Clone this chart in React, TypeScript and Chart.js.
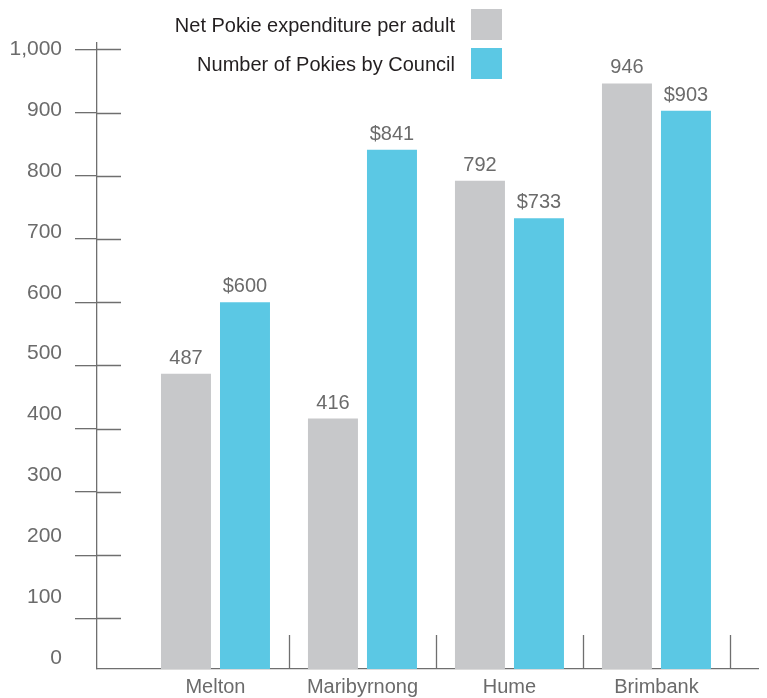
import React, { useEffect, useRef } from 'react';
import { Chart, registerables } from 'chart.js';

Chart.register(...registerables);

const categories = ['Melton', 'Maribyrnong', 'Hume', 'Brimbank'];
const seriesNames = ['Net Pokie expenditure per adult', 'Number of Pokies by Council'];
const expenditureValues = [487, 416, 792, 946];
const pokiesValues = [600, 841, 733, 903];
const expenditureLabels = ['487', '416', '792', '946'];
const pokiesLabels = ['$600', '$841', '$733', '$903'];
const yTickValues = [0, 100, 200, 300, 400, 500, 600, 700, 800, 900, 1000];
const markTickValues = [100, 200, 300, 400, 500, 600, 700, 800, 900, 1000];
const separatorValues = [0.5, 1.5, 2.5, 3.5];
const seriesColors = ['#c7c8ca', '#5bc8e4'];

const FONT = "'Liberation Sans', Arial, Helvetica, sans-serif";
const AXIS_COLOR = '#6f6f6f';
const TEXT_GRAY = '#6b6b6b';

const barLabelPlugin = {
  id: 'barLabels',
  afterDatasetsDraw(chart: any) {
    const ctx = chart.ctx;
    const all = [expenditureLabels, pokiesLabels];
    ctx.save();
    ctx.font = `20px ${FONT}`;
    ctx.fillStyle = TEXT_GRAY;
    ctx.textAlign = 'center';
    ctx.textBaseline = 'alphabetic';
    chart.data.datasets.forEach((_: any, i: number) => {
      const meta = chart.getDatasetMeta(i);
      meta.data.forEach((bar: any, j: number) => {
        ctx.fillText(all[i][j], bar.x, bar.y - 10);
      });
    });
    ctx.restore();
  },
};

const axisDecorPlugin = {
  id: 'axisDecor',
  afterDraw(chart: any) {
    const ctx = chart.ctx;
    const area = chart.chartArea;
    const ys = chart.scales.y;
    const xs = chart.scales.x;
    ctx.save();
    ctx.strokeStyle = AXIS_COLOR;
    ctx.lineWidth = 1.3;
    ctx.beginPath();
    markTickValues.forEach((v) => {
      const py = Math.round(ys.getPixelForValue(v)) + 0.5;
      ctx.moveTo(area.left, py);
      ctx.lineTo(area.left + 24, py);
    });
    separatorValues.forEach((v) => {
      const px = Math.round(xs.getPixelForValue(v)) + 0.5;
      ctx.moveTo(px, area.bottom - 34);
      ctx.lineTo(px, area.bottom);
    });
    ctx.stroke();
    ctx.restore();
  },
};

export default function App() {
  const canvasRef = useRef<HTMLCanvasElement>(null);

  useEffect(() => {
    Chart.defaults.font.family = FONT;
    const chart = new Chart(canvasRef.current as HTMLCanvasElement, {
      type: 'bar',
      data: {
        datasets: [
          {
            label: seriesNames[0],
            data: expenditureValues.map((v, i) => ({ x: i, y: v })),
            backgroundColor: seriesColors[0],
            borderWidth: 0,
            categoryPercentage: 0.803,
            barPercentage: 0.847,
          },
          {
            label: seriesNames[1],
            data: pokiesValues.map((v, i) => ({ x: i, y: v })),
            backgroundColor: seriesColors[1],
            borderWidth: 0,
            categoryPercentage: 0.803,
            barPercentage: 0.847,
          },
        ],
      },
      options: {
        responsive: false,
        animation: false,
        layout: { padding: { top: 35, left: 0, right: 0, bottom: 0 } },
        plugins: {
          legend: { display: false },
          tooltip: { enabled: false },
        },
        scales: {
          x: {
            type: 'linear',
            position: 'bottom',
            min: -0.806,
            max: 3.752,
            offset: false,
            afterBuildTicks: (scale: any) => {
              scale.ticks = categories.map((_, i) => ({ value: i }));
            },
            afterFit: (scale: any) => {
              scale.height = 29;
            },
            grid: { display: false, drawTicks: true, tickLength: 6 },
            border: { display: true, color: AXIS_COLOR, width: 1.3 },
            ticks: {
              padding: 0,
              color: TEXT_GRAY,
              font: { size: 20, family: FONT },
              maxRotation: 0,
              autoSkip: false,
              callback: (value: any) => categories[value] ?? '',
            },
          },
          y: {
            type: 'linear',
            position: 'left',
            weight: 0,
            min: 20,
            max: 1010,
            afterBuildTicks: (scale: any) => {
              scale.ticks = markTickValues.map((v) => ({ value: v }));
            },
            afterFit: (scale: any) => {
              scale.width = 0;
            },
            grid: {
              display: true,
              drawOnChartArea: false,
              drawTicks: true,
              tickLength: 22,
              color: AXIS_COLOR,
              lineWidth: 1.3,
            },
            border: { display: true, color: AXIS_COLOR, width: 1.3 },
            ticks: { display: false },
          },
          yLabels: {
            type: 'linear',
            position: 'left',
            weight: 1,
            min: -18.07,
            max: 1010.3,
            afterBuildTicks: (scale: any) => {
              scale.ticks = yTickValues.map((v) => ({ value: v }));
            },
            afterFit: (scale: any) => {
              scale.width = 89;
            },
            grid: { display: false, drawTicks: true, tickLength: 35 },
            border: { display: false },
            ticks: {
              padding: 0,
              color: TEXT_GRAY,
              font: { size: 21, family: FONT },
              callback: (value: any) => Number(value).toLocaleString('en-US'),
            },
          },
        },
      } as any,
      plugins: [barLabelPlugin, axisDecorPlugin],
    });
    return () => chart.destroy();
  }, []);

  const rowStyle: React.CSSProperties = {
    display: 'flex',
    justifyContent: 'flex-end',
    alignItems: 'center',
    height: 31,
    gap: 16,
  };

  return (
    <div style={{ position: 'relative', width: 759, height: 690, fontFamily: FONT }}>
      <canvas ref={canvasRef} width={759} height={690} style={{ display: 'block' }} />
      <div style={{ position: 'absolute', top: 1, right: 265 }}>
        {seriesNames.map((name, i) => (
          <div key={name} style={{ ...rowStyle, marginTop: i === 0 ? 0 : 8 }}>
            <span style={{ fontSize: 20, color: '#231f20', whiteSpace: 'nowrap', lineHeight: '24px' }}>{name}</span>
            <span style={{ width: 31, height: 31, background: seriesColors[i], display: 'inline-block' }} />
          </div>
        ))}
      </div>
    </div>
  );
}
